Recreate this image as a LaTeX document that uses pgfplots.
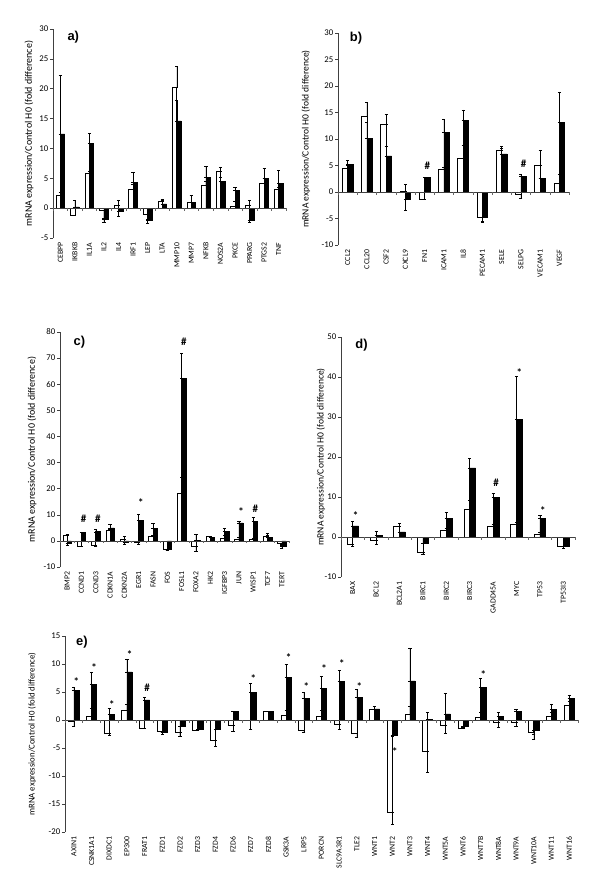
\documentclass[border=0pt]{standalone}
\usepackage{pgfplots}
\pgfplotsset{compat=1.18}
\usepackage{pgfplotstable}
\usepackage{fontspec}
\setmainfont{Carlito}
\newfontfamily\labfont{Liberation Sans}

\pgfplotstableread{
x w we b be
0 2.2 0.4 12.45 9.75
1 -1.2 0.0 0.2 1.1
2 5.8 0.4 10.8 1.7
3 -0.4 1.3 -1.9 0.4
4 0.5 0.8 -0.5 0.9
5 3.1 0.9 4.3 1.7
6 -1.0 0.9 -2.0 0.5
7 1.2 0.1 0.7 0.8
8 20.3 3.5 14.6 3.4
9 1.0 1.1 1.0 1.1
10 3.9 0.6 5.2 1.8
11 6.1 0.8 4.5 0.6
12 0.3 0.9 3.0 0.5
13 0.5 0.8 -2.0 0.4
14 4.1 0.9 5.0 1.6
15 3.1 0.4 4.1 2.2
}\tabA

\pgfplotstableread{
x w we b be
0 4.4 0.6 5.2 0.8
1 14.2 2.7 10.1 3.0
2 12.8 1.8 6.8 1.8
3 0.2 1.2 -1.4 2.0
4 -1.4 0.0 2.7 0.1
5 4.3 0.4 11.3 2.5
6 6.3 2.6 13.5 2.0
7 -4.8 1.0 -4.8 0.8
8 7.9 0.7 7.2 1.0
9 -0.4 0.8 3.0 0.4
10 5.1 2.8 2.6 0.0
11 1.6 1.8 13.1 5.8
}\tabB

\pgfplotstableread{
x w we b be
0 2.0 0.6 -0.8 0.9
1 -2.0 0.0 3.3 0.0
2 -1.6 0.5 3.5 1.0
3 4.2 0.4 5.0 1.2
4 0.8 1.0 -0.6 0.8
5 -0.6 0.6 8.0 2.2
6 1.7 0.5 4.8 2.0
7 -3.2 0.0 -3.4 0.0
8 18.4 5.8 62.2 9.7
9 -2.0 1.9 0.3 2.4
10 1.8 0.0 1.4 0.4
11 1.1 0.9 3.6 1.2
12 0.8 0.6 6.9 0.8
13 0.7 0.3 7.4 1.6
14 1.7 0.3 1.4 1.4
15 -1.1 0.5 -2.0 1.0
}\tabC

\pgfplotstableread{
x w we b be
0 -1.8 0.4 2.8 1.1
1 -0.8 1.0 0.4 1.0
2 2.7 0.8 1.3 0.0
3 -3.7 0.7 -1.6 0.0
4 1.7 0.4 4.7 1.4
5 6.9 2.4 17.3 2.3
6 2.8 0.4 10.0 0.9
7 3.1 0.6 29.4 10.7
8 0.6 0.7 4.6 0.9
9 -2.2 0.2 -2.3 0.6
}\tabD

\pgfplotstableread{
x w we b be
0 -0.2 0.9 5.3 0.6
1 0.6 1.5 6.4 2.2
2 -2.4 0.4 1.0 1.1
3 1.8 1.0 8.6 2.3
4 -1.5 0.0 3.6 0.5
5 -2.1 0.0 -2.2 0.3
6 -2.2 0.7 -1.2 1.7
7 -1.8 0.0 -1.7 0.1
8 -3.6 1.0 -1.7 0.0
9 -0.9 1.1 1.5 0.0
10 -0.05 1.55 4.9 1.7
11 1.6 0.0 1.5 0.0
12 0.9 0.9 7.6 2.4
13 -1.9 0.3 3.9 1.0
14 0.7 1.1 5.7 2.1
15 -0.7 0.9 6.9 2.0
16 -2.4 0.7 4.0 1.5
17 2.0 0.4 2.0 0.4
18 -16.5 2.1 -2.8 0.1
19 1.1 1.3 7.0 5.9
20 -5.5 3.9 0.1 1.3
21 -1.0 1.3 1.1 3.6
22 -1.5 0.0 -1.2 0.1
23 0.5 0.9 5.8 1.7
24 -0.4 0.9 0.7 0.6
25 -0.4 0.7 1.6 0.3
26 -2.2 0.3 -1.9 1.5
27 0.6 0.8 1.9 1.0
28 2.6 0.8 3.8 0.7
}\tabE

\pgfplotsset{
  panel/.style={
    scale only axis,
    axis y line*=left,
    axis x line*=bottom,
    x axis line style={draw=none},
    y axis line style={black!75, line width=0.5bp},
    xtick style={draw=none},
    ytick style={black!75, line width=0.5bp},
    tick align=outside,
    major tick length=3bp,
    xticklabel style={rotate=90, anchor=east, font=\fontsize{7.8}{8}\selectfont, inner sep=1.5bp},
    yticklabel style={font=\fontsize{8.8}{9}\selectfont, inner sep=1.5bp},
    /pgf/number format/assume math mode=true,
    enlargelimits=false,
    clip=false,
  },
  wbar/.style 2 args={ybar, bar width=#1, bar shift=#2, fill=white, draw=black, line width=0.6bp,
    error bars/.cd, y dir=both, y explicit,
    error bar style={black, line width=0.5bp},
    error mark options={rotate=90, mark size=1.6bp, black, line width=0.5bp}},
  bbar/.style 2 args={ybar, bar width=#1, bar shift=#2, fill=black, draw=black, line width=0.6bp,
    error bars/.cd, y dir=both, y explicit,
    error bar style={black, line width=0.5bp},
    error mark options={rotate=90, mark size=1.6bp, black, line width=0.5bp}},
  annot/.style={draw=none, mark=none, nodes near coords, point meta=explicit symbolic,
    every node near coord/.style={anchor=center, font=\bfseries\fontsize{11}{11}\selectfont, inner sep=0pt}},
}
\newcommand{\ylab}{mRNA expression/Control H0 (fold difference)}
\newcommand{\plab}[3]{\node[font=\labfont\bfseries\fontsize{13}{13}\selectfont, anchor=center] at (rel axis cs:#1,#2) {#3};}

\begin{document}
\begin{tikzpicture}
\useasboundingbox (0,0) rectangle (600bp,-891bp);

% ---------------- a)
\begin{axis}[panel, at={(53bp,-238bp)}, anchor=south west, width=233bp, height=209bp,
  xmin=-0.5, xmax=15.5, ymin=-5, ymax=30, ytick={-5,0,...,30},
  xtick={0,...,15},
  xticklabels={CEBPP,IKBKB,IL1A,IL2,IL4,IRF1,LEP,LTA,MMP10,MMP7,NFKB,NOS2A,PKCE,PPARG,PTGS2,TNF},
  ylabel={\ylab},
  every axis y label/.style={at={([xshift=-24bp]rel axis cs:0,0.5)}, rotate=90, anchor=center, font=\fontsize{10}{10}\selectfont}]
\addplot[wbar={0.3}{-0.15}] table[x=x, y=w, y error plus expr={ifthenelse(\thisrow{w}>=0,\thisrow{we},0)}, y error minus expr={ifthenelse(\thisrow{w}<0,\thisrow{we},0)}] \tabA;
\addplot[bbar={0.3}{0.15}] table[x=x, y=b, y error plus expr={ifthenelse(\thisrow{b}>=0,\thisrow{be},0)}, y error minus expr={ifthenelse(\thisrow{b}<0,\thisrow{be},0)}] \tabA;
\draw[black!75, line width=0.5bp] (axis cs:-0.5,0) -- (axis cs:15.5,0);
\pgfplotsinvokeforeach{-0.5,0.5,...,15.5}{\draw[black!60, line width=0.4bp] (axis cs:#1,0) -- ++(0pt,-2.5bp);}
\plab{0.087}{0.96}{a)}
\end{axis}

% ---------------- b)
\begin{axis}[panel, at={(338bp,-245bp)}, anchor=south west, width=231bp, height=212bp,
  xmin=-0.5, xmax=11.5, ymin=-10, ymax=30, ytick={-10,-5,...,30},
  xtick={0,...,11},
  xticklabels={CCL2,CCL20,CSF2,CXCL9,FN1,ICAM1,IL8,PECAM1,SELE,SELPG,VECAM1,VEGF},
  ylabel={\ylab},
  every axis y label/.style={at={([xshift=-32bp]rel axis cs:0,0.5)}, rotate=90, anchor=center, font=\fontsize{9.6}{10}\selectfont}]
\addplot[wbar={0.28}{-0.14}] table[x=x, y=w, y error plus expr={ifthenelse(\thisrow{w}>=0,\thisrow{we},0)}, y error minus expr={ifthenelse(\thisrow{w}<0,\thisrow{we},0)}] \tabB;
\addplot[bbar={0.28}{0.14}] table[x=x, y=b, y error plus expr={ifthenelse(\thisrow{b}>=0,\thisrow{be},0)}, y error minus expr={ifthenelse(\thisrow{b}<0,\thisrow{be},0)}] \tabB;
\addplot[annot] table[x=x, y=y, meta=l] {
x y l
4.14 4.9 \#
9.14 5.4 \#
};
\draw[black!75, line width=0.5bp] (axis cs:-0.5,0) -- (axis cs:11.5,0);
\pgfplotsinvokeforeach{-0.5,0.5,...,11.5}{\draw[black!60, line width=0.4bp] (axis cs:#1,0) -- ++(0pt,-2.5bp);}
\plab{0.078}{0.976}{b)}
\end{axis}

% ---------------- c)
\begin{axis}[panel, at={(60bp,-567bp)}, anchor=south west, width=229bp, height=235bp,
  xmin=-0.5, xmax=15.5, ymin=-10, ymax=80, ytick={-10,0,...,80},
  xtick={0,...,15},
  xticklabels={BMP2,CCND1,CCND3,CDKN1A,CDKN2A,EGR1,FASN,FOS,FOSL1,FOXA2,HK2,IGFBP3,JUN,WISP1,TCF7,TERT},
  ylabel={\ylab},
  every axis y label/.style={at={([xshift=-28bp]rel axis cs:0,0.5)}, rotate=90, anchor=center, font=\fontsize{10}{10}\selectfont}]
\addplot[wbar={0.3}{-0.15}] table[x=x, y=w, y error plus expr={ifthenelse(\thisrow{w}>=0,\thisrow{we},0)}, y error minus expr={ifthenelse(\thisrow{w}<0,\thisrow{we},0)}] \tabC;
\addplot[bbar={0.3}{0.15}] table[x=x, y=b, y error plus expr={ifthenelse(\thisrow{b}>=0,\thisrow{be},0)}, y error minus expr={ifthenelse(\thisrow{b}<0,\thisrow{be},0)}] \tabC;
\addplot[annot] table[x=x, y=y, meta=l] {
x y l
1.15 8.6 \#
2.15 8.6 \#
5.15 14.6 *
8.15 76.3 \#
12.15 11.2 *
13.15 12.4 \#
};
\draw[black!75, line width=0.5bp] (axis cs:-0.5,0) -- (axis cs:15.5,0);
\pgfplotsinvokeforeach{-0.5,0.5,...,15.5}{\draw[black!60, line width=0.4bp] (axis cs:#1,0) -- ++(0pt,-2.5bp);}
\plab{0.085}{0.957}{c)}
\end{axis}

% ---------------- d)
\begin{axis}[panel, at={(341bp,-577bp)}, anchor=south west, width=234bp, height=240bp,
  xmin=-0.5, xmax=9.5, ymin=-10, ymax=50, ytick={-10,0,...,50},
  xtick={0,...,9},
  xticklabels={BAX,BCL2,BCL2A1,BIRC1,BIRC2,BIRC3,GADD45A,MYC,TP53,TP53I3},
  ylabel={\ylab},
  every axis y label/.style={at={([xshift=-20bp]rel axis cs:0,0.5)}, rotate=90, anchor=center, font=\fontsize{9.6}{10}\selectfont}]
\addplot[wbar={0.25}{-0.125}] table[x=x, y=w, y error plus expr={ifthenelse(\thisrow{w}>=0,\thisrow{we},0)}, y error minus expr={ifthenelse(\thisrow{w}<0,\thisrow{we},0)}] \tabD;
\addplot[bbar={0.25}{0.125}] table[x=x, y=b, y error plus expr={ifthenelse(\thisrow{b}>=0,\thisrow{be},0)}, y error minus expr={ifthenelse(\thisrow{b}<0,\thisrow{be},0)}] \tabD;
\addplot[annot] table[x=x, y=y, meta=l] {
x y l
0.125 5.4 *
6.125 13.6 \#
7.125 41.1 *
8.125 6.6 *
};
\draw[black!75, line width=0.5bp] (axis cs:-0.5,0) -- (axis cs:9.5,0);
\pgfplotsinvokeforeach{-0.5,0.5,...,9.5}{\draw[black!60, line width=0.4bp] (axis cs:#1,0) -- ++(0pt,-2.5bp);}
\plab{0.088}{0.965}{d)}
\end{axis}

% ---------------- e)
\begin{axis}[panel, at={(65bp,-832bp)}, anchor=south west, width=513bp, height=196bp,
  xmin=-0.5, xmax=28.5, ymin=-20, ymax=15, ytick={-20,-15,...,15},
  xtick={0,...,28},
  xticklabels={AXIN1,CSNK1A1,DIXDC1,EP300,FRAT1,FZD1,FZD2,FZD3,FZD4,FZD6,FZD7,FZD8,GSK3A,LRP5,PORCN,SLC9A3R1,TLE2,WNT1,WNT2,WNT3,WNT4,WNT5A,WNT6,WNT7B,WNT8A,WNT9A,WNT10A,WNT11,WNT16},
  ylabel={\ylab},
  every axis y label/.style={at={([xshift=-33bp]rel axis cs:0,0.5)}, rotate=90, anchor=center, font=\fontsize{8.8}{9}\selectfont}]
\addplot[wbar={0.29}{-0.145}] table[x=x, y=w, y error plus expr={ifthenelse(\thisrow{w}>=0,\thisrow{we},0)}, y error minus expr={ifthenelse(\thisrow{w}<0,\thisrow{we},0)}] \tabE;
\addplot[bbar={0.29}{0.145}] table[x=x, y=b, y error plus expr={ifthenelse(\thisrow{b}>=0,\thisrow{be},0)}, y error minus expr={ifthenelse(\thisrow{b}<0,\thisrow{be},0)}] \tabE;
\addplot[annot] table[x=x, y=y, meta=l] {
x y l
0.145 6.8 *
1.145 9.3 *
2.145 2.8 *
3.145 11.7 *
4.145 5.8 \#
10.145 7.4 *
12.145 11.2 *
13.145 5.9 *
14.145 9.2 *
15.145 10.1 *
16.145 5.9 *
18.145 -5.7 *
23.145 8.2 *
};
\draw[black!75, line width=0.5bp] (axis cs:-0.5,0) -- (axis cs:28.5,0);
\pgfplotsinvokeforeach{-0.5,0.5,...,28.5}{\draw[black!60, line width=0.4bp] (axis cs:#1,0) -- ++(0pt,-2.5bp);}
\plab{0.033}{0.97}{e)}
\end{axis}
\end{tikzpicture}
\end{document}
